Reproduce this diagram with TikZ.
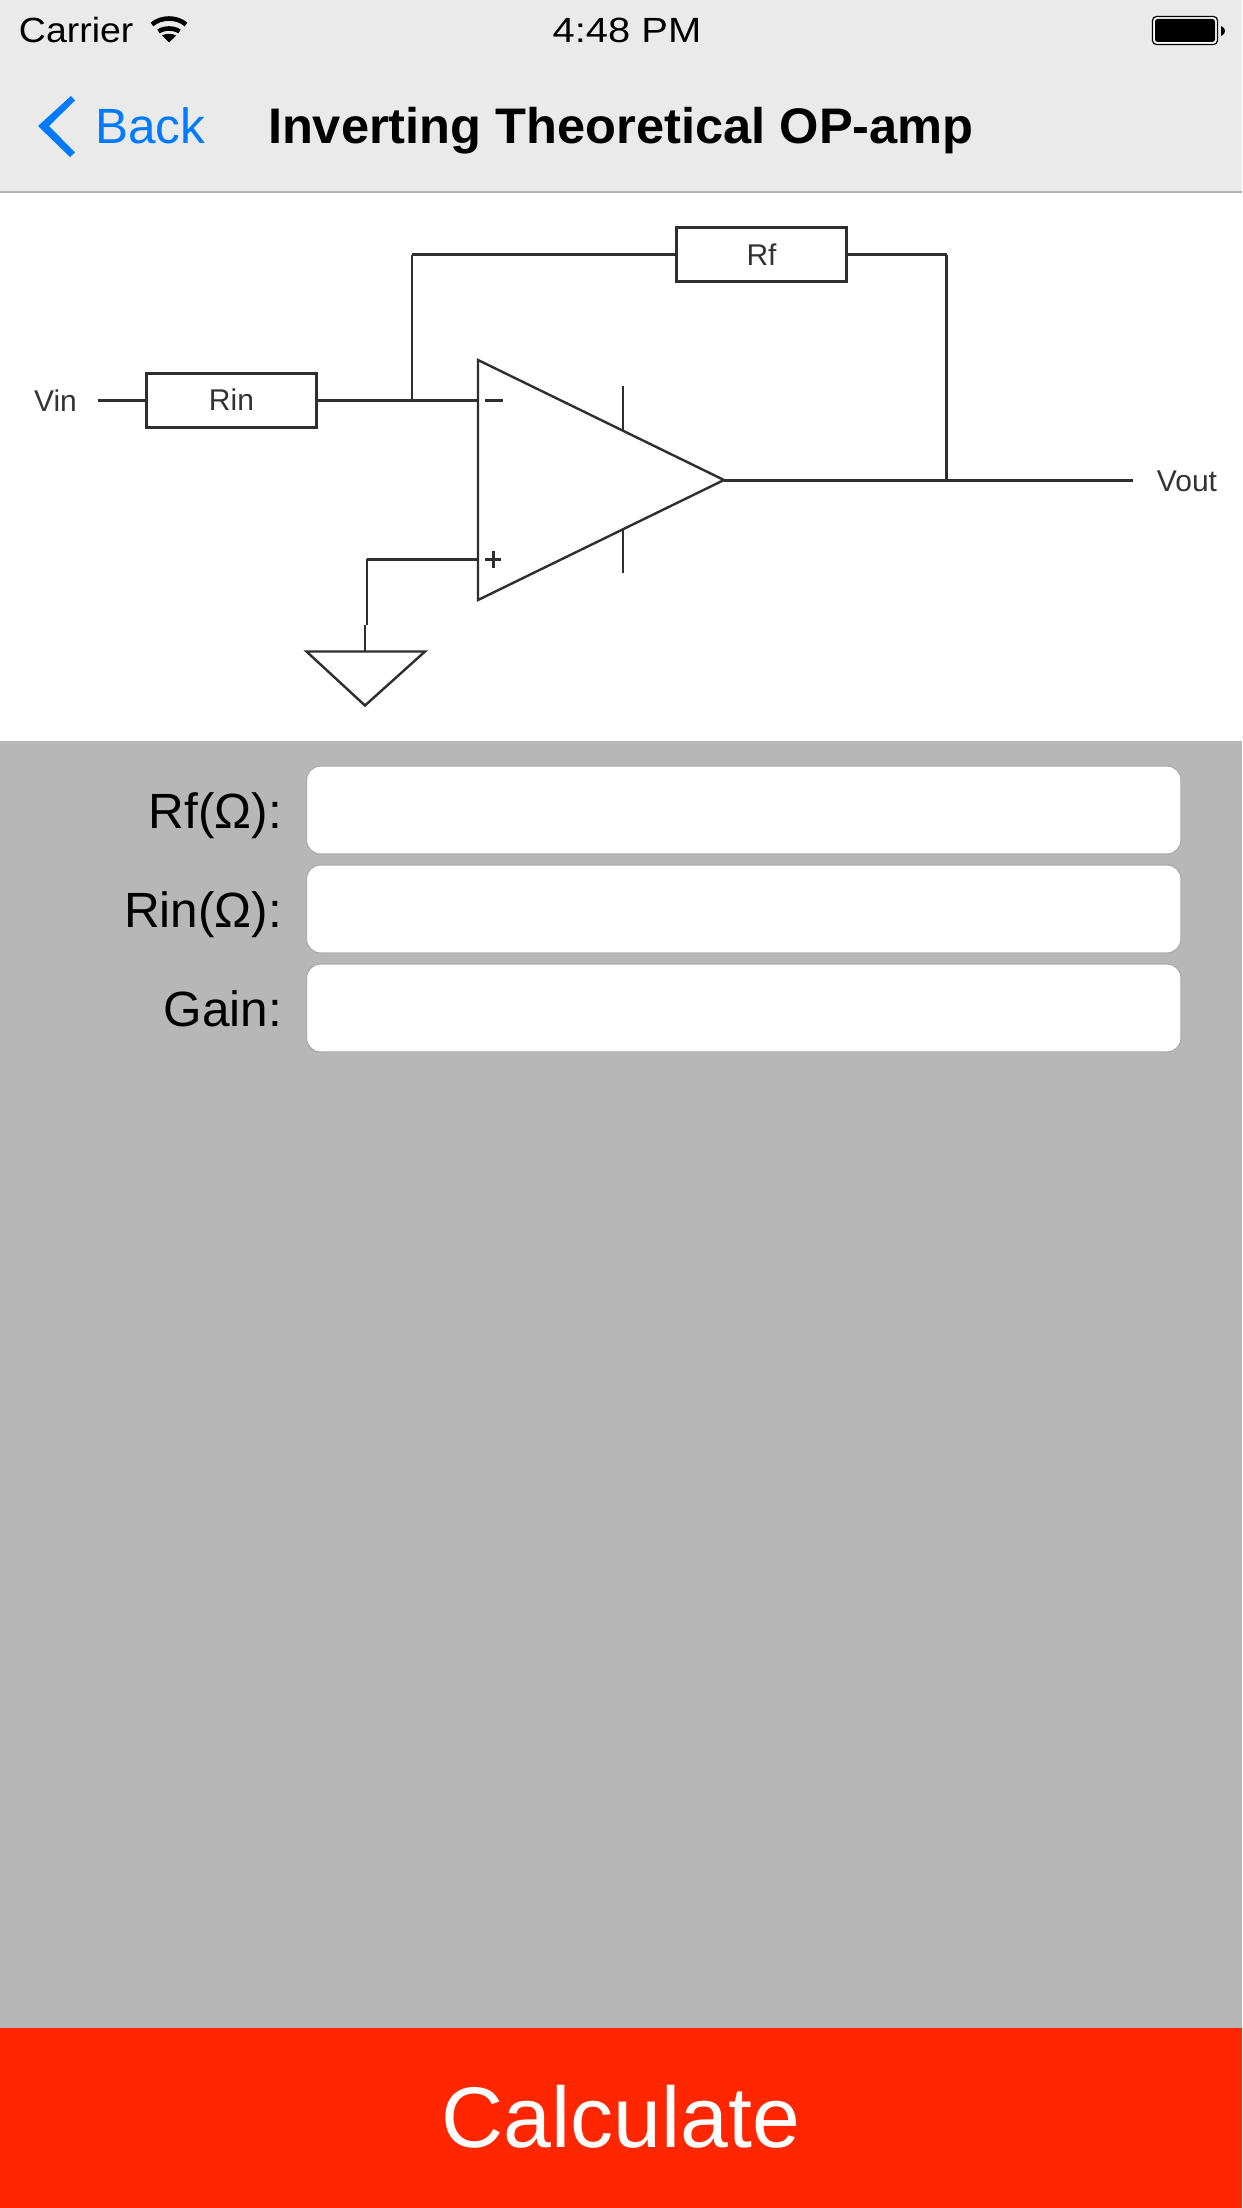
\documentclass[tikz,border=0pt]{standalone}
\usepackage{graphicx}
\usepackage{fontspec}
\setmainfont{Liberation Sans}
\definecolor{navbg}{HTML}{EAEAEA}
\definecolor{navline}{HTML}{B2B2B2}
\definecolor{formbg}{HTML}{B7B7B7}
\definecolor{fieldline}{HTML}{ABABAB}
\definecolor{iosblue}{HTML}{007AFF}
\definecolor{iosred}{HTML}{FF2600}
\definecolor{wire}{HTML}{2E2E2E}
\definecolor{wiretext}{HTML}{333333}
\newcommand{\fsz}[1]{\fontsize{#1}{#1}\selectfont}
\tikzset{
  x=1pt,y=-1pt,
  txt/.style={inner sep=0pt,outer sep=0pt,text=black},
  statustxt/.style={txt,font=\fsz{35}},
  formlabel/.style={txt,anchor=base east,font=\fsz{49.5}},
  fieldbox/.style={fill=white,draw=fieldline,line width=1.2pt,rounded corners=14pt},
  wirethick/.style={draw=wire,line width=3pt},
  wirethin/.style={draw=wire,line width=2.4pt},
  resistor/.style={draw=wire,line width=3pt,fill=white,inner sep=0pt,outer sep=0pt,font=\fsz{30},text=wiretext,minimum width=170pt,minimum height=54pt},
  diagtxt/.style={txt,text=wiretext,font=\fsz{30}},
}
\begin{document}
\begin{tikzpicture}
\useasboundingbox (0,0) rectangle (1242,2208);
% backgrounds
\fill[white] (0,0) rectangle (1242,2208);
\fill[navbg] (0,0) rectangle (1242,192);
\fill[formbg] (0,741) rectangle (1242,2028);
\fill[iosred] (0,2028) rectangle (1242,2208);
\draw[navline,line width=1.5pt] (0,192) -- (1242,192);
% status bar
\node[statustxt,anchor=base west] (carrier) at (19,43) {\scalebox{1.07}[1]{Carrier}};
\fill (169,42.5) -- (162,35.5) .. controls (166,33.2) and (172,33.2) .. (176,35.5) -- cycle;
\draw[line width=4.6pt] (158.5,31.5) .. controls (164,27.5) and (174,27.5) .. (179.5,31.5);
\draw[line width=4.6pt] (152,24.5) .. controls (161,16.5) and (177,16.5) .. (186,24.5);
\node[statustxt,anchor=base] (clock) at (627,43) {\scalebox{1.14}[1]{4:48 PM}};
\fill[white,rounded corners=4pt] (1152.5,16.5) rectangle (1217.5,44.5);
\draw[black,line width=1.2pt,rounded corners=4pt] (1152.5,16.5) rectangle (1217.5,44.5);
\fill[black,rounded corners=2.5pt] (1155,19) rectangle (1215,42);
\fill[black] (1221,26) .. controls (1224,27) and (1225,29) .. (1225,31) .. controls (1225,33) and (1224,35) .. (1221,36) -- cycle;
% nav bar
\fill[iosblue] (38,126) -- (71,96) -- (75,100.5) -- (49,126) -- (75,152.5) -- (70,157) -- cycle;
\node[txt,text=iosblue,anchor=base west,font=\fsz{49.5}] (back) at (95,143) {Back};
\node[txt,anchor=base west,font=\fsz{50}\bfseries] (title) at (268,143) {\scalebox{1.012}[1]{Inverting Theoretical OP-amp}};
% circuit
\node[resistor] (rf) at (761.5,254.5) {Rf};
\node[resistor] (rin) at (231.5,400) {Rin};
\coordinate (tmin) at (478,400);
\coordinate (tplus) at (478,559);
\coordinate (ttop) at (478,360);
\coordinate (tbot) at (478,600);
\coordinate (ttip) at (724,480);
\coordinate (jin) at (412,400);
\coordinate (jout) at (946.5,480);
\coordinate (vinend) at (98,400);
\coordinate (voutend) at (1133,480);
\coordinate (gndjog) at (367,625);
\coordinate (gndtop) at (365,651.5);
\coordinate (gl) at (306.5,651.5);
\coordinate (gr) at (425,651.5);
\coordinate (gb) at (365,705.5);
\draw[wirethin,line join=miter] (ttop) -- (ttip) -- (tbot) -- cycle;
\draw[wirethick] (vinend) -- (rin.west);
\draw[wirethick] (rin.east) -- (tmin);
\draw[wirethin] (jin) -- (jin |- rf.west);
\draw[wirethick] (jin |- rf.west) -- (rf.west);
\draw[wirethick] (rf.east) -- (jout |- rf.east);
\draw[wirethin] (jout |- rf.east) -- (jout);
\draw[wirethick] (ttip) -- (voutend);
\draw[wirethick] (tplus) -- (367,559);
\draw[wirethin] (367,559) -- (gndjog);
\draw[wirethin] (gndtop |- gndjog) -- (gndtop);
\draw[wirethin,line join=miter] (gl) -- (gr) -- (gb) -- cycle;
\draw[wirethin] (623,386) -- (623,430);
\draw[wirethin] (623,528) -- (623,573);
\draw[wirethick] (485,400) -- (503,400);
\draw[wirethick] (485,559) -- (501,559) (493,551) -- (493,568);
\node[diagtxt] (vin) at (55.5,401) {Vin};
\node[diagtxt] (vout) at (1187,481) {Vout};
% form
\draw[fieldbox] (306.5,766) rectangle (1181,854);
\draw[fieldbox] (306.5,865) rectangle (1181,953);
\draw[fieldbox] (306.5,964) rectangle (1181,1052);
\node[formlabel] (lrf) at (282,828) {Rf(Ω):};
\node[formlabel] (lrin) at (282,927.5) {Rin(Ω):};
\node[formlabel] (lgain) at (282,1026.5) {Gain:};
\node[txt,text=white,anchor=base,font=\fsz{86}] (calc) at (621,2147) {Calculate};
\end{tikzpicture}
\end{document}
